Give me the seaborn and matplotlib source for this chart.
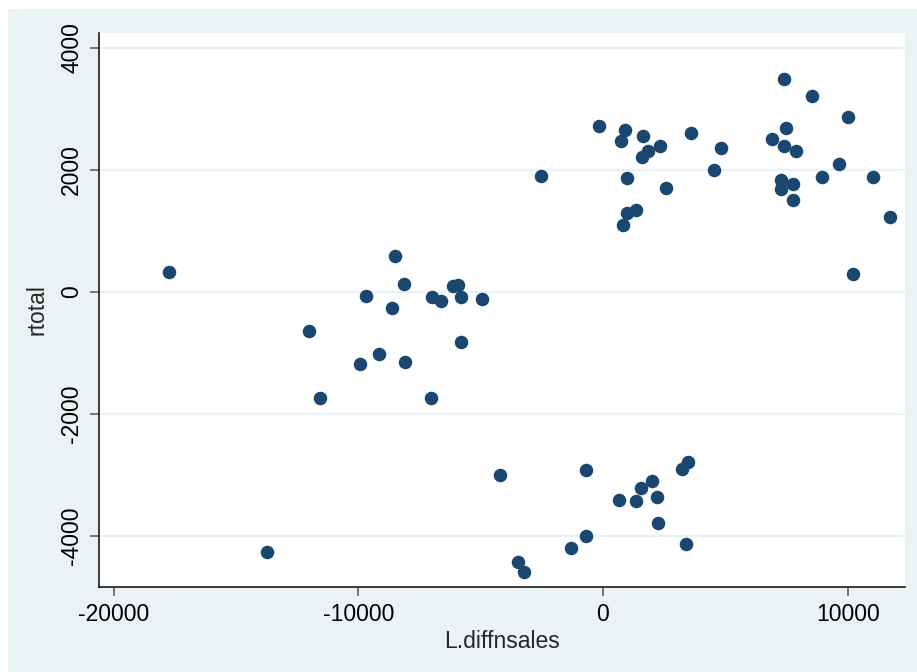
import matplotlib
matplotlib.use("Agg")
import matplotlib.pyplot as plt
import seaborn as sns
import pandas as pd
from matplotlib.patches import Rectangle

# Data
diffnsales_lag = [
    -17750, -13720, -12020, -11565, -9930, -9670, -9154, -8610, -8490, -8130,
    -8110, -7000, -7040, -6630, -6150, -5920, -5800, -5790, -4945,
    -4209, -3474, -3216, -1320, -680, -710, 666, 1361, 1541, 1990, 2194,
    2235, 3241, 3474, 3392,
    -2546, -163, 887, 748, 1622, 1851, 1606, 2342, 981, 2562, 817, 981,
    1349, 3596, 4822, 4548, 6894, 7397, 7466, 7397, 7900, 8541, 10025,
    9632, 8962, 7287, 7261, 7778, 7778, 11034, 11716, 10204,
]
rtotal = [
    325, -4270, -640, -1750, -1185, -70, -1015, -265, 590, 126,
    -1155, -90, -1750, -150, 100, 110, -85, -830, -115,
    -3000, -4436, -4600, -4197, -4000, -2930, -3410, -3436, -3218, -3098, -3361,
    -3792, -2911, -2797, -4131,
    1892, 2711, 2646, 2475, 2557, 2307, 2213, 2384, 1864, 1705, 1092, 1290,
    1336, 2602, 2361, 2000, 2498, 3492, 2684, 2384, 2311, 3213, 2869,
    2098, 1885, 1826, 1689, 1766, 1503, 1880, 1225, 290,
]
x_ticks = [-20000, -10000, 0, 10000]
y_ticks = [-4000, -2000, 0, 2000, 4000]

df = pd.DataFrame({"L.diffnsales": diffnsales_lag, "rtotal": rtotal})

sns.set_style("white")
plt.rcParams["font.family"] = ["Liberation Sans", "DejaVu Sans"]

BG = "#EAF2F3"
NAVY = "#1a476f"

fig = plt.figure(figsize=(9.17, 6.72), dpi=100, facecolor="white")
fig.patches.append(Rectangle((8 / 917, 0), 1, 1 - 9 / 672, transform=fig.transFigure,
                             facecolor=BG, edgecolor="none", zorder=-10))
ax = fig.add_axes([99 / 917, 1 - 587 / 672, (905 - 99) / 917, (587 - 33) / 672])
ax.set_facecolor("white")

sns.scatterplot(data=df, x="L.diffnsales", y="rtotal", ax=ax, color=NAVY,
                s=95, linewidth=0, zorder=3)

ax.set_xlim(-20597, 12342)
ax.set_ylim(-4841, 4241)
ax.set_xticks(x_ticks)
ax.set_yticks(y_ticks)
ax.set_xticklabels([str(v) for v in x_ticks])
ax.set_yticklabels([str(v) for v in y_ticks])

ax.yaxis.grid(True, color=BG, linewidth=1.6, zorder=0)
ax.xaxis.grid(False)
ax.set_axisbelow(True)

for s in ["top", "right"]:
    ax.spines[s].set_visible(False)
for s in ["left", "bottom"]:
    ax.spines[s].set_color("#1a1a1a")
    ax.spines[s].set_linewidth(1.2)

ax.tick_params(axis="both", direction="out", length=6.5, width=1.1, color="#555555",
               labelsize=16.5, labelcolor="black", bottom=True, left=True)
ax.tick_params(axis="x", pad=5)
ax.tick_params(axis="y", pad=5)
for lab in ax.get_yticklabels():
    lab.set_rotation(90)
    lab.set_va("center")

ax.set_xlabel("L.diffnsales", fontsize=16.5, labelpad=3)
ax.set_ylabel("rtotal", fontsize=16.5, labelpad=8)

fig.savefig("out.png", dpi=100, facecolor=fig.get_facecolor())
